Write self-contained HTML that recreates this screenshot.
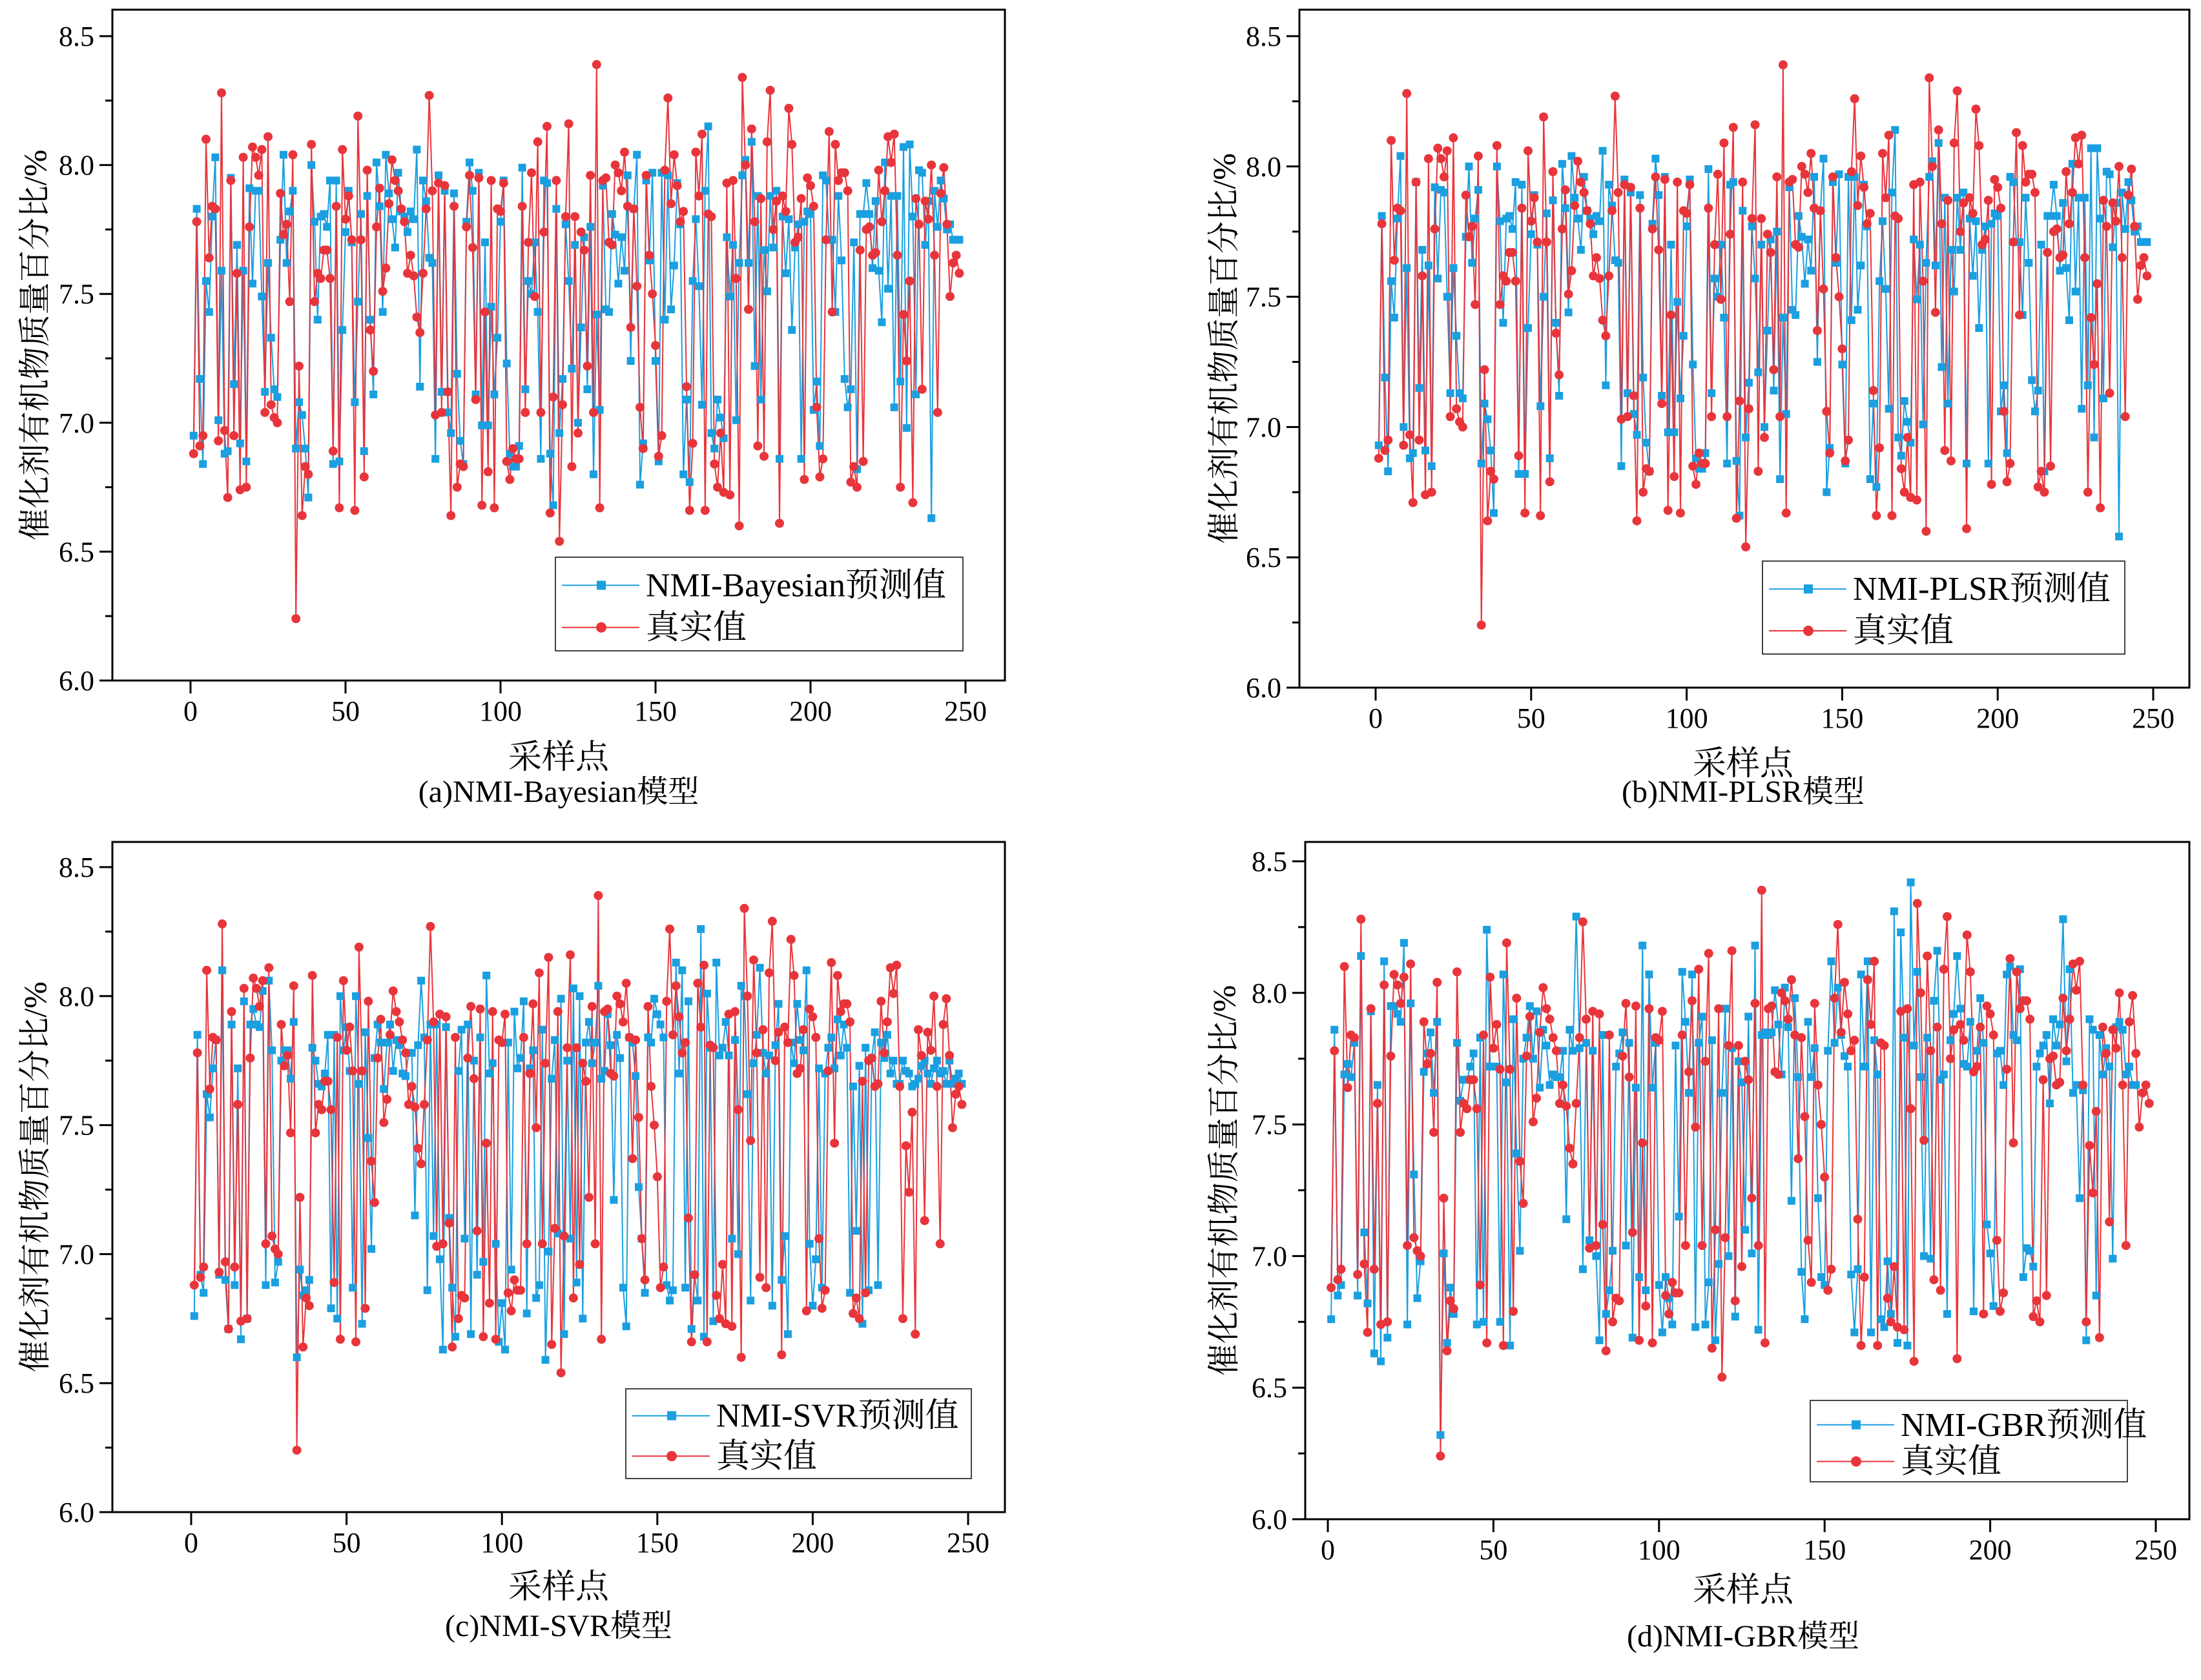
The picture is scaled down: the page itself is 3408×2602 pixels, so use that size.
<!DOCTYPE html>
<html><head><meta charset="utf-8"><style>
html,body{margin:0;padding:0;background:#fff;}
svg{display:block;}
text{font-family:"Liberation Serif","Noto Serif CJK SC","Noto Sans CJK SC",serif;fill:#000;}
</style></head><body>
<svg id="chart" width="3408" height="2602" viewBox="0 0 3408 2602" xmlns="http://www.w3.org/2000/svg"></svg>
<script>
const trueValues=[6.88,7.78,6.91,6.95,8.10,7.64,7.84,7.83,6.93,8.28,6.97,6.71,7.94,6.95,7.58,6.74,8.03,6.75,7.76,8.07,8.03,7.96,8.06,7.04,8.11,7.07,7.02,7.00,7.89,7.73,7.77,7.47,8.04,6.24,7.22,6.64,6.83,6.80,8.08,7.47,7.58,7.56,7.67,7.67,7.56,6.89,7.84,6.67,8.06,7.79,7.88,7.71,6.66,8.19,7.71,6.79,7.98,7.36,7.20,7.76,7.91,7.51,7.60,7.85,8.02,7.94,7.90,7.83,7.78,7.58,7.65,7.57,7.41,7.35,7.58,7.83,8.27,7.90,7.03,7.93,7.04,7.92,7.12,6.64,7.84,6.75,6.84,6.83,7.76,7.96,7.68,7.09,7.95,6.68,7.43,6.81,7.94,6.67,7.83,7.82,7.93,6.85,6.78,6.90,6.86,6.86,7.84,7.04,7.70,7.97,7.49,8.09,7.04,7.74,8.15,6.65,7.10,7.94,6.54,7.07,7.80,8.16,6.83,7.80,6.96,7.74,7.67,7.22,7.96,7.04,8.39,6.67,7.94,7.95,7.70,7.69,8.00,7.97,7.90,8.05,7.84,7.37,7.83,7.53,7.06,6.90,7.96,7.65,7.50,7.30,6.87,6.95,7.98,8.26,7.85,8.04,7.92,7.78,7.82,7.14,6.66,6.92,8.05,7.88,8.12,6.66,7.81,7.80,6.84,6.75,6.96,6.73,7.93,6.72,7.94,7.56,6.60,8.34,8.00,7.44,8.14,7.78,6.91,7.87,6.87,8.09,8.29,7.75,7.86,6.61,7.88,7.82,8.22,8.08,7.70,7.72,7.87,6.78,7.95,7.92,7.84,7.06,6.79,6.86,7.71,8.13,7.43,8.08,7.94,7.97,7.97,7.90,6.77,6.83,6.75,7.67,6.85,7.75,7.76,7.65,7.66,7.98,7.78,7.90,8.11,8.01,8.12,7.65,6.75,7.42,7.24,7.55,6.69,7.87,7.77,7.13,7.86,7.79,8.00,7.65,7.04,7.89,7.99,7.77,7.49,7.62,7.65,7.58];
const bayesPred=[6.95,7.83,7.17,6.84,7.55,7.43,7.80,8.03,7.01,7.59,6.88,6.89,7.95,7.15,7.69,6.92,7.59,6.85,7.91,7.54,7.90,7.90,7.49,7.12,7.62,7.33,7.13,7.10,7.71,8.04,7.62,7.82,7.90,6.90,7.08,7.03,6.90,6.71,8.00,7.78,7.40,7.80,7.81,7.76,7.94,6.84,7.94,6.85,7.36,7.74,7.90,7.70,7.08,7.47,7.81,6.89,7.88,7.40,7.11,8.01,7.84,7.43,8.04,7.89,7.79,7.68,7.97,7.82,7.80,7.74,7.82,7.79,8.06,7.14,7.94,7.86,7.64,7.62,6.86,7.96,7.12,7.90,7.04,6.96,7.89,7.19,6.93,6.84,7.78,8.01,7.90,7.11,7.97,6.99,7.70,6.99,7.45,7.11,7.33,7.78,7.94,7.23,6.88,6.83,6.83,6.91,7.99,7.13,7.55,7.50,7.70,7.43,6.86,7.94,7.93,6.88,6.68,7.83,6.96,7.17,7.77,7.55,7.21,7.69,7.00,7.37,7.72,7.13,7.76,6.80,7.42,7.05,7.92,7.44,7.43,7.81,7.73,7.54,7.72,7.59,7.96,7.24,7.83,8.04,6.76,6.92,7.94,7.63,7.97,7.24,6.85,7.97,7.40,7.96,7.44,7.61,7.93,7.77,6.80,7.09,6.77,7.55,7.79,7.53,7.07,7.90,8.15,6.96,6.90,7.09,7.02,6.94,7.72,7.49,7.69,7.01,7.62,7.96,8.02,7.62,8.09,7.22,7.88,7.09,7.67,7.51,7.88,7.68,7.90,6.86,7.80,7.58,7.79,7.36,7.68,7.77,6.86,7.78,7.82,7.81,7.05,7.16,6.91,7.96,7.94,7.71,7.71,7.43,7.88,7.63,7.17,7.06,7.13,7.70,6.82,7.81,7.81,7.93,7.81,7.60,7.86,7.59,7.39,8.01,7.52,7.88,7.06,7.88,7.16,8.07,6.98,8.08,7.80,7.11,7.98,7.97,7.69,7.86,6.63,7.90,7.76,7.94,7.87,7.75,7.77,7.71,7.71,7.71];
const plsrPred=[6.93,7.81,7.19,6.83,7.56,7.42,7.80,8.04,7.00,7.61,6.88,6.90,7.94,7.15,7.68,6.91,7.62,6.85,7.92,7.57,7.91,7.90,7.50,7.13,7.61,7.35,7.13,7.11,7.73,8.00,7.63,7.80,7.91,6.86,7.09,7.03,6.91,6.67,8.00,7.79,7.40,7.80,7.81,7.76,7.94,6.82,7.93,6.82,7.38,7.74,7.89,7.70,7.08,7.50,7.82,6.88,7.87,7.40,7.12,8.01,7.84,7.44,8.04,7.88,7.80,7.68,7.96,7.83,7.80,7.74,7.81,7.79,8.06,7.16,7.93,7.85,7.64,7.63,6.85,7.95,7.13,7.90,7.05,6.97,7.89,7.19,6.94,6.83,7.78,8.03,7.89,7.12,7.96,6.98,7.70,6.98,7.48,7.11,7.35,7.77,7.95,7.24,6.88,6.84,6.84,6.90,7.99,7.13,7.57,7.50,7.70,7.42,6.86,7.93,7.94,6.87,6.66,7.83,6.96,7.17,7.77,7.57,7.21,7.70,7.00,7.37,7.72,7.14,7.75,6.80,7.42,7.05,7.92,7.45,7.43,7.81,7.73,7.55,7.72,7.60,7.96,7.25,7.83,8.03,6.75,6.92,7.94,7.63,7.97,7.24,6.86,7.96,7.41,7.96,7.45,7.62,7.93,7.77,6.80,7.09,6.77,7.56,7.79,7.53,7.07,7.90,8.14,6.96,6.89,7.10,7.02,6.94,7.72,7.49,7.70,7.01,7.63,7.96,8.02,7.62,8.09,7.23,7.88,7.09,7.68,7.52,7.88,7.68,7.90,6.86,7.80,7.58,7.79,7.38,7.68,7.77,6.86,7.78,7.82,7.81,7.06,7.16,6.90,7.96,7.94,7.71,7.71,7.43,7.88,7.63,7.18,7.06,7.14,7.70,6.83,7.81,7.81,7.93,7.81,7.60,7.86,7.61,7.41,8.01,7.52,7.88,7.07,7.88,7.16,8.07,6.96,8.07,7.80,7.11,7.98,7.97,7.69,7.86,6.58,7.90,7.76,7.94,7.87,7.75,7.77,7.71,7.71,7.71];
const svrPred=[6.76,7.85,6.92,6.85,7.62,7.53,7.72,7.83,6.92,8.10,6.90,6.71,7.89,6.88,7.72,6.67,7.98,6.75,7.89,7.95,7.89,7.88,8.02,6.88,8.06,7.79,6.89,6.97,7.75,7.79,7.79,7.68,7.90,6.60,6.94,6.84,6.86,6.90,7.80,7.75,7.66,7.65,7.70,7.85,6.79,7.85,6.75,8.00,7.79,7.88,7.71,6.87,8.00,7.66,6.73,7.86,7.45,7.02,7.76,7.89,7.82,7.64,7.82,7.89,7.71,7.83,7.81,7.70,7.69,7.78,7.78,7.15,7.81,8.06,7.84,6.86,7.89,7.07,7.89,6.98,6.63,7.88,7.14,6.87,6.68,7.71,7.87,7.06,7.89,6.69,7.75,6.92,7.84,6.97,8.08,7.70,7.74,7.04,6.66,6.81,6.63,7.82,6.94,7.94,7.72,7.76,7.98,6.77,7.72,7.79,6.83,6.88,7.87,6.59,7.01,7.68,7.83,7.08,7.99,6.69,7.75,7.06,8.03,6.89,8.00,6.75,7.82,7.90,7.74,7.82,8.04,7.68,7.71,7.93,7.81,7.21,7.85,7.76,6.87,6.72,7.84,7.82,7.69,7.26,7.06,6.85,7.84,7.82,7.99,7.93,7.89,7.84,6.88,6.82,6.86,8.13,7.70,8.10,6.87,7.98,6.71,6.92,6.82,8.26,6.68,8.01,7.80,6.74,8.13,7.77,7.80,7.90,7.77,7.06,7.83,7.00,8.04,8.00,7.62,6.82,7.74,7.85,8.11,7.78,7.70,7.77,6.80,7.81,7.97,6.90,7.07,6.69,7.82,7.74,7.97,7.83,7.79,8.10,7.04,6.80,6.98,7.72,6.87,7.70,7.80,7.84,7.72,7.91,7.77,7.89,7.80,6.85,7.65,7.09,7.73,6.73,7.80,6.86,7.76,7.86,6.88,7.82,7.76,7.85,7.70,7.75,7.66,7.66,7.75,7.71,7.70,7.65,7.66,7.68,7.73,7.75,7.70,7.66,7.72,7.75,7.70,7.71,7.66,7.75,7.66,7.68,7.70,7.66];
const gbrPred=[6.76,7.86,6.85,6.89,7.69,7.73,7.68,7.81,6.85,8.14,7.09,6.82,7.93,6.63,7.65,6.60,8.12,6.69,7.95,7.95,7.92,7.89,8.19,6.74,7.96,7.31,6.84,6.98,7.70,7.77,7.85,7.62,7.89,6.32,7.01,6.67,6.88,6.78,7.81,7.59,7.67,7.67,7.72,7.77,6.74,7.83,6.75,8.24,7.72,7.72,7.72,6.75,8.07,7.66,6.66,7.90,7.39,7.02,7.75,7.83,7.95,7.75,7.93,7.64,7.86,7.80,7.65,7.69,7.68,7.68,7.78,7.14,7.86,7.78,8.29,7.79,6.95,7.81,7.06,7.78,7.00,6.68,7.84,6.78,6.87,7.02,7.72,7.77,7.85,7.04,7.81,6.69,7.64,6.92,8.18,6.87,8.07,7.64,7.81,6.89,6.71,6.92,6.84,6.74,7.80,7.15,8.08,7.89,7.62,8.07,6.73,7.81,7.91,6.74,6.90,7.82,6.68,6.97,7.62,7.94,7.00,7.79,6.77,7.74,7.66,7.10,7.91,7.01,8.18,6.72,7.84,7.85,7.84,7.85,8.01,7.88,7.69,8.02,7.87,7.21,7.98,7.68,6.94,6.76,7.89,7.68,7.79,7.22,6.92,6.89,7.78,8.12,7.81,8.02,7.84,7.76,7.72,6.93,6.71,6.95,8.07,7.72,8.12,6.71,7.82,7.69,6.76,6.73,6.98,6.78,8.31,6.67,8.23,7.83,6.66,8.42,7.80,8.08,7.68,7.00,7.83,6.99,7.97,8.16,7.67,7.69,6.78,7.82,7.92,8.14,7.94,7.73,7.72,7.89,6.79,7.78,7.98,7.81,7.12,7.01,6.81,7.77,7.78,7.65,8.07,8.10,7.84,7.82,8.09,6.92,7.03,7.02,6.96,7.72,7.77,7.80,7.84,7.58,7.90,7.80,7.88,8.28,7.74,8.09,7.62,7.65,7.22,7.63,6.68,7.90,7.86,6.85,7.84,7.69,7.79,7.72,6.99,7.87,7.89,7.86,7.69,7.72,7.65,7.65];
const xTicks=[0,50,100,150,200,250];
const yTicks=[6.0,6.5,7.0,7.5,8.0,8.5];

const NS="http://www.w3.org/2000/svg";
const svg=document.getElementById('chart');
function mk(tag,attrs,parent){const e=document.createElementNS(NS,tag);for(const k in attrs)e.setAttribute(k,attrs[k]);(parent||svg).appendChild(e);return e;}

const panels=[
 {key:'a',pred:bayesPred,label:'NMI-Bayesian预测值',cap:'(a)NMI-Bayesian模型',box:[174,15,1556,1054],x0:295,x250:1495,y85:56,y60:1054,leg:[860,863,1491,1008],xt:[865,1190],cy:1242,ytx:54},
 {key:'b',pred:plsrPred,label:'NMI-PLSR预测值',cap:'(b)NMI-PLSR模型',box:[2012,15,3390,1065],x0:2130,x250:3334,y85:56,y60:1065,leg:[2729,869,3290,1013],xt:[2699,1200],cy:1242,ytx:1895},
 {key:'c',pred:svrPred,label:'NMI-SVR预测值',cap:'(c)NMI-SVR模型',box:[174,1304,1556,2342],x0:296,x250:1499,y85:1343,y60:2342,leg:[969,2151,1504,2290],xt:[865,2475],cy:2534,ytx:54},
 {key:'d',pred:gbrPred,label:'NMI-GBR预测值',cap:'(d)NMI-GBR模型',box:[2021,1304,3390,2353],x0:2056,x250:3338,y85:1334,y60:2353,leg:[2803,2169,3294,2295],xt:[2699,2480],cy:2550,ytx:1895}
];
const BLUE='#1a9fe0', RED='#e8353b';

panels.forEach(p=>{
 const g=mk('g',{});
 
 
 const X=v=>p.x0+(v/250)*(p.x250-p.x0);
 const Y=v=>p.y60-(v-6)/2.5*(p.y60-p.y85);
 const [l,t,r,b]=p.box;
 const frame=mk('rect',{x:l,y:t,width:r-l,height:b-t,fill:'none',stroke:'#000','stroke-width':3},g);
 
 
 for(let v=6;v<=8.5001;v+=0.25){
  const major=Math.abs(v*2-Math.round(v*2))<1e-6;
  mk('line',{x1:l,x2:l-(major?20:11),y1:Y(v),y2:Y(v),stroke:'#000','stroke-width':3},g);
 }
 yTicks.forEach(v=>{
  const tx=mk('text',{x:l-28,y:Y(v)+15,'text-anchor':'end','font-size':44},g);
  tx.textContent=v.toFixed(1);
  
  
 });
 xTicks.forEach(v=>{
  mk('line',{x1:X(v),x2:X(v),y1:b,y2:b+20,stroke:'#000','stroke-width':3},g);
  const tx=mk('text',{x:X(v),y:b+62,'text-anchor':'middle','font-size':44},g);
  tx.textContent=v;
  
  
 });
 const xt=mk('text',{x:p.xt[0],y:p.xt[1],'text-anchor':'middle','font-size':52},g);
 xt.textContent='采样点';
 
 
 const cap=mk('text',{x:p.xt[0],y:p.cy,'text-anchor':'middle','font-size':48},g);
 cap.textContent=p.cap;
 
 
 const cyMid=(t+b)/2;
 const yt=mk('text',{x:p.ytx,y:cyMid,'text-anchor':'middle','font-size':50,transform:`rotate(-90 ${p.ytx} ${cyMid})`,'dominant-baseline':'central'},g);
 yt.textContent='催化剂有机物质量百分比/%';
 
 

 const pp=p.pred.map((v,i)=>X(i+1).toFixed(1)+','+Y(v).toFixed(1)).join(' ');
 const bl=mk('polyline',{points:pp,fill:'none',stroke:BLUE,'stroke-width':2},g);
 
 
 const tp=trueValues.map((v,i)=>X(i+1).toFixed(1)+','+Y(v).toFixed(1)).join(' ');
 const rl=mk('polyline',{points:tp,fill:'none',stroke:RED,'stroke-width':2},g);
 
 
 p.pred.forEach((v,i)=>{
  const s=mk('rect',{x:X(i+1)-6,y:Y(v)-6,width:12,height:12,fill:BLUE},g);
  
  
 });
 trueValues.forEach((v,i)=>{
  const c=mk('circle',{cx:X(i+1),cy:Y(v),r:7,fill:RED},g);
  
  
 });
 const [lx1,ly1,lx2,ly2]=p.leg;
 const lg=mk('g',{},g);
 
 
 mk('rect',{x:lx1,y:ly1,width:lx2-lx1,height:ly2-ly1,fill:'#fff',stroke:'#444','stroke-width':2},lg);
 const r1=ly1+(ly2-ly1)*0.3, r2=ly1+(ly2-ly1)*0.75;
 mk('line',{x1:lx1+10,x2:lx1+130,y1:r1,y2:r1,stroke:BLUE,'stroke-width':2},lg);
 mk('rect',{x:lx1+64,y:r1-7,width:14,height:14,fill:BLUE},lg);
 mk('line',{x1:lx1+10,x2:lx1+130,y1:r2,y2:r2,stroke:RED,'stroke-width':2},lg);
 mk('circle',{cx:lx1+71,cy:r2,r:8,fill:RED},lg);
 const t1=mk('text',{x:lx1+140,y:r1+17,'font-size':52},lg);
 t1.textContent=p.label;
 
 
 const t2=mk('text',{x:lx1+140,y:r2+17,'font-size':52},lg);
 t2.textContent='真实值';
 
 
});
</script>
</body></html>
